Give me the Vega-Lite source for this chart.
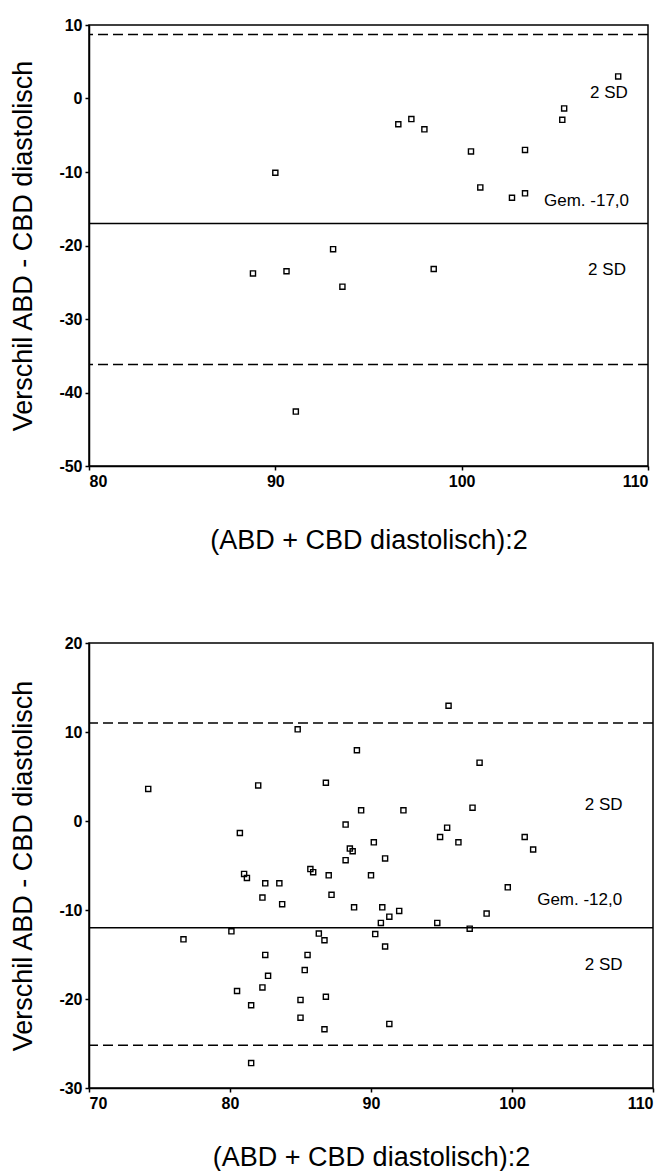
{
  "$schema": "https://vega.github.io/schema/vega-lite/v6.json",
  "background": "white",
  "padding": {"left": 9, "top": 16, "right": 0, "bottom": 0},
  "spacing": 80,
  "config": {
    "view": {"stroke": "black", "strokeWidth": 1.5},
    "axis": {
      "grid": false,
      "domainColor": "black", "domainWidth": 1.5,
      "tickColor": "black", "tickWidth": 1.5, "tickSize": 4,
      "labelFont": "Liberation Sans", "labelFontSize": 16, "labelFontWeight": "bold", "labelColor": "black", "labelPadding": 3,
      "labelExpr": "replace(datum.label, '\u2212', '-')",
      "titleFont": "Liberation Sans", "titleFontSize": 27, "titleFontWeight": "normal", "titleColor": "black"
    },
    "axisX": {"titlePadding": 38},
    "axisY": {"titlePadding": 21}
  },
  "datasets": {
    "top_points": [
      {"x": 90.0, "y": -10.1}, {"x": 96.6, "y": -3.5}, {"x": 97.3, "y": -2.8}, {"x": 98.0, "y": -4.2},
      {"x": 100.5, "y": -7.2}, {"x": 101.0, "y": -12.1}, {"x": 102.7, "y": -13.5}, {"x": 103.4, "y": -12.9},
      {"x": 103.4, "y": -7.0}, {"x": 105.4, "y": -2.9}, {"x": 105.5, "y": -1.35}, {"x": 108.4, "y": 3.0},
      {"x": 88.8, "y": -23.8}, {"x": 90.6, "y": -23.5}, {"x": 93.1, "y": -20.5}, {"x": 93.6, "y": -25.6},
      {"x": 98.5, "y": -23.2}, {"x": 91.1, "y": -42.6}
    ],
    "top_lines": [
      {"y": 8.7, "kind": "limit"}, {"y": -17.0, "kind": "mean"}, {"y": -36.2, "kind": "limit"}
    ],
    "top_labels": [
      {"x": 107.9, "y": 0.8, "text": "2 SD"},
      {"x": 106.7, "y": -14.0, "text": "Gem. -17,0"},
      {"x": 107.8, "y": -23.3, "text": "2 SD"}
    ],
    "bottom_points": [
      {"x": 95.5, "y": 12.95}, {"x": 84.8, "y": 10.3}, {"x": 89.0, "y": 7.95}, {"x": 97.7, "y": 6.55},
      {"x": 74.2, "y": 3.6}, {"x": 82.0, "y": 4.0}, {"x": 86.8, "y": 4.3}, {"x": 89.3, "y": 1.2},
      {"x": 92.3, "y": 1.2}, {"x": 97.2, "y": 1.5}, {"x": 88.2, "y": -0.4}, {"x": 95.4, "y": -0.75},
      {"x": 80.7, "y": -1.35}, {"x": 94.9, "y": -1.8}, {"x": 100.9, "y": -1.8}, {"x": 90.2, "y": -2.4},
      {"x": 96.2, "y": -2.4}, {"x": 88.5, "y": -3.1}, {"x": 88.7, "y": -3.4}, {"x": 101.5, "y": -3.2},
      {"x": 91.0, "y": -4.2}, {"x": 88.2, "y": -4.4}, {"x": 85.7, "y": -5.4}, {"x": 85.9, "y": -5.75},
      {"x": 81.0, "y": -5.95}, {"x": 81.2, "y": -6.4}, {"x": 87.0, "y": -6.1}, {"x": 90.0, "y": -6.1},
      {"x": 82.5, "y": -7.0}, {"x": 83.5, "y": -7.0}, {"x": 99.7, "y": -7.45}, {"x": 82.3, "y": -8.6},
      {"x": 87.2, "y": -8.3}, {"x": 83.7, "y": -9.35}, {"x": 88.8, "y": -9.7}, {"x": 90.8, "y": -9.7},
      {"x": 92.0, "y": -10.1}, {"x": 91.3, "y": -10.75}, {"x": 90.7, "y": -11.45}, {"x": 98.2, "y": -10.4},
      {"x": 94.7, "y": -11.45}, {"x": 97.0, "y": -12.1}, {"x": 80.1, "y": -12.4}, {"x": 76.7, "y": -13.3},
      {"x": 86.3, "y": -12.65}, {"x": 86.7, "y": -13.4}, {"x": 90.3, "y": -12.7}, {"x": 91.0, "y": -14.1},
      {"x": 82.5, "y": -15.05}, {"x": 85.5, "y": -15.05}, {"x": 85.3, "y": -16.75}, {"x": 82.7, "y": -17.4},
      {"x": 80.5, "y": -19.1}, {"x": 82.3, "y": -18.7}, {"x": 81.5, "y": -20.7}, {"x": 85.0, "y": -20.1},
      {"x": 86.8, "y": -19.75}, {"x": 85.0, "y": -22.1}, {"x": 91.3, "y": -22.8}, {"x": 86.7, "y": -23.4},
      {"x": 81.5, "y": -27.2}
    ],
    "bottom_lines": [
      {"y": 11.0, "kind": "limit"}, {"y": -12.0, "kind": "mean"}, {"y": -25.2, "kind": "limit"}
    ],
    "bottom_labels": [
      {"x": 106.5, "y": 1.85, "text": "2 SD"},
      {"x": 104.8, "y": -8.9, "text": "Gem. -12,0"},
      {"x": 106.5, "y": -16.2, "text": "2 SD"}
    ]
  },
  "vconcat": [
    {
      "width": 559,
      "height": 441,
      "layer": [
        {
          "data": {"name": "top_lines"},
          "mark": {"type": "rule", "color": "black", "strokeWidth": 1.5},
          "encoding": {
            "y": {"field": "y", "type": "quantitative", "scale": {"domain": [-50, 10]}},
            "strokeDash": {"field": "kind", "type": "nominal", "scale": {"domain": ["mean", "limit"], "range": [[1, 0], [10, 5]]}, "legend": null}
          }
        },
        {
          "data": {"name": "top_points"},
          "mark": {"type": "point", "shape": "square", "filled": false, "color": "black", "size": 26, "strokeWidth": 1.4, "opacity": 1},
          "encoding": {
            "x": {"field": "x", "type": "quantitative", "scale": {"domain": [80, 110], "nice": false, "zero": false},
                  "axis": {"values": [80, 90, 100, 110], "title": "(ABD + CBD diastolisch):2"}},
            "y": {"field": "y", "type": "quantitative", "scale": {"domain": [-50, 10], "nice": false, "zero": false},
                  "axis": {"values": [-50, -40, -30, -20, -10, 0, 10], "title": "Verschil ABD - CBD diastolisch"}}
          }
        },
        {
          "data": {"name": "top_labels"},
          "mark": {"type": "text", "font": "Liberation Sans", "fontSize": 17, "color": "black", "align": "center", "baseline": "middle"},
          "encoding": {
            "x": {"field": "x", "type": "quantitative"},
            "y": {"field": "y", "type": "quantitative"},
            "text": {"field": "text"}
          }
        }
      ]
    },
    {
      "width": 564,
      "height": 445,
      "layer": [
        {
          "data": {"name": "bottom_lines"},
          "mark": {"type": "rule", "color": "black", "strokeWidth": 1.5},
          "encoding": {
            "y": {"field": "y", "type": "quantitative", "scale": {"domain": [-30, 20]}},
            "strokeDash": {"field": "kind", "type": "nominal", "scale": {"domain": ["mean", "limit"], "range": [[1, 0], [10, 5]]}, "legend": null}
          }
        },
        {
          "data": {"name": "bottom_points"},
          "mark": {"type": "point", "shape": "square", "filled": false, "color": "black", "size": 26, "strokeWidth": 1.4, "opacity": 1},
          "encoding": {
            "x": {"field": "x", "type": "quantitative", "scale": {"domain": [70, 110], "nice": false, "zero": false},
                  "axis": {"values": [70, 80, 90, 100, 110], "title": "(ABD + CBD diastolisch):2", "titlePadding": 33}},
            "y": {"field": "y", "type": "quantitative", "scale": {"domain": [-30, 20], "nice": false, "zero": false},
                  "axis": {"values": [-30, -20, -10, 0, 10, 20], "title": "Verschil ABD - CBD diastolisch"}}
          }
        },
        {
          "data": {"name": "bottom_labels"},
          "mark": {"type": "text", "font": "Liberation Sans", "fontSize": 17, "color": "black", "align": "center", "baseline": "middle"},
          "encoding": {
            "x": {"field": "x", "type": "quantitative"},
            "y": {"field": "y", "type": "quantitative"},
            "text": {"field": "text"}
          }
        }
      ]
    }
  ]
}
